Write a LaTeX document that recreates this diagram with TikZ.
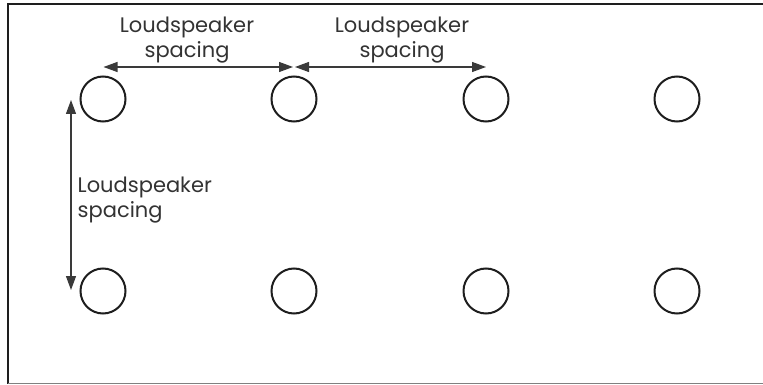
\documentclass[tikz,border=0pt]{standalone}
\usepackage{fontspec}
\setmainfont{Poppins}
\usetikzlibrary{arrows.meta}
\definecolor{ink}{HTML}{1E1E1E}
\definecolor{txt}{HTML}{333333}
\definecolor{arr}{HTML}{3A3A3A}
\begin{document}
\begin{tikzpicture}[x=1pt,y=-1pt,
  spk/.style={circle,draw=ink,line width=2pt,minimum size=45pt,inner sep=0pt},
  lbl/.style={text=txt,inner sep=0pt,font=\fontsize{21}{25}\selectfont},
  dim/.style={draw=arr,line width=1.2pt,{Triangle[length=14pt,width=10pt]}-{Triangle[length=14pt,width=10pt]}}]
\clip (0,0) rectangle (763,385);
\fill[white] (0,0) rectangle (763,385);
\draw[ink,line width=2pt] (780,4.5) -- (8,4.5) -- (8,383.5);
\draw[gray,line width=1.5pt] (8,383.5) -- (780,383.5);
% loudspeakers
\node[spk] (a1) at (103,99) {};
\node[spk] (a2) at (294,99) {};
\node[spk] (a3) at (486,99) {};
\node[spk] (a4) at (677,99) {};
\node[spk] (b1) at (103,291) {};
\node[spk] (b2) at (294,291) {};
\node[spk] (b3) at (486,291) {};
\node[spk] (b4) at (677,291) {};
% dimension end points
\coordinate (h1) at (103.5,67);
\coordinate (h2) at (294,67);
\coordinate (h3) at (486,67);
\coordinate (v1) at (71,100);
\coordinate (v2) at (71,290);
\draw[dim,shorten >=1pt] (h1) -- (h2);
\draw[dim,shorten <=1pt] (h2) -- (h3);
\draw[dim] (v1) -- (v2);
% labels (base anchor = baseline of last line)
\node[lbl,align=center,anchor=base] (l1) at (187,57.5) {Loudspeaker\\spacing};
\node[lbl,align=center,anchor=base] (l2) at (402,57.5) {Loudspeaker\\spacing};
\node[lbl,align=left,anchor=base west] (l3) at (77.5,217.5) {Loudspeaker\\spacing};
\end{tikzpicture}
\end{document}
